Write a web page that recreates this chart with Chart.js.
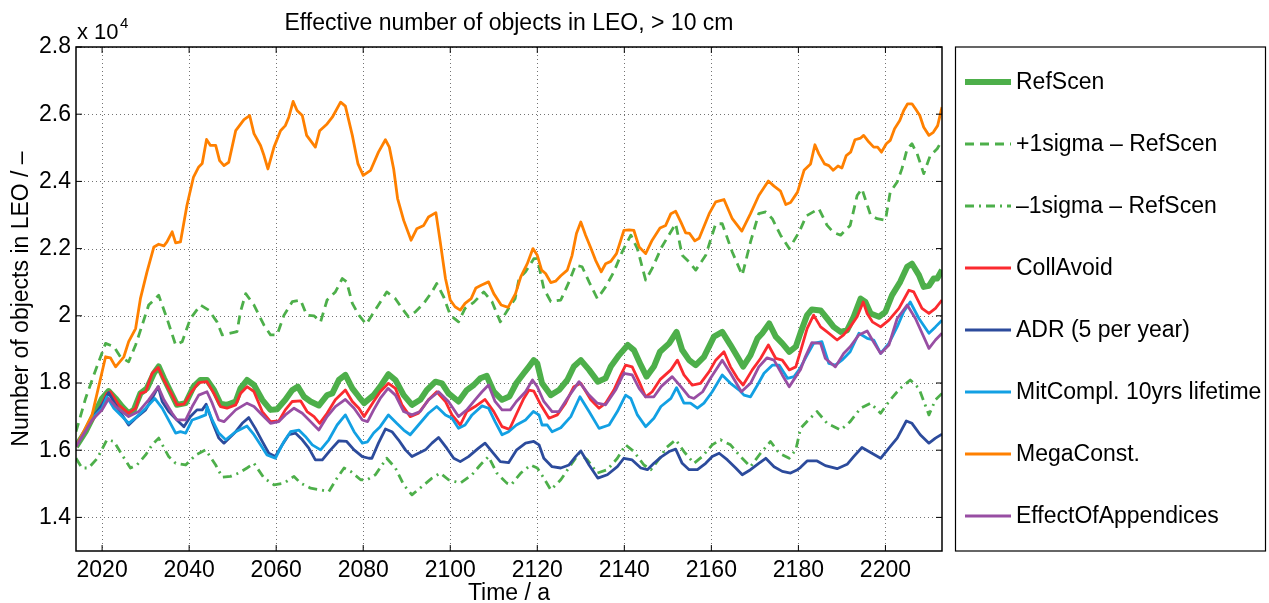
<!DOCTYPE html>
<html>
<head>
<meta charset="utf-8">
<script src="https://cdn.jsdelivr.net/npm/chart.js@4.4.1/dist/chart.umd.min.js"></script>
<style>
  html, body { margin: 0; padding: 0; background: #fff; }
  #wrap { position: relative; width: 1269px; height: 603px; }
</style>
</head>
<body>
<div id="wrap"><canvas id="leoChart" width="1269" height="603"></canvas></div>
<script>
// tick positions (years / number of objects)
const xTicks = [2020, 2040, 2060, 2080, 2100, 2120, 2140, 2160, 2180, 2200];
const yTicks = [14000, 16000, 18000, 20000, 22000, 24000, 26000, 28000];

// [year, objects]
const refScen = [
  [2014.0,16110],[2016.2,16550],[2018.5,17150],[2020.0,17540],[2021.5,17760],[2023.1,17540],[2024.6,17300],[2026.1,17100],[2027.3,17200],[2028.8,17690],
  [2030.3,17840],[2031.9,18290],[2033.0,18490],[2034.2,18140],[2036.1,17640],[2037.2,17350],[2039.2,17400],[2041.0,17890],[2042.6,18090],[2044.1,18090],
  [2045.7,17790],[2047.2,17380],[2048.7,17350],[2050.7,17450],[2051.8,17840],[2053.3,18090],[2054.9,17940],[2056.8,17500],[2058.7,17200],[2060.2,17220],
  [2062.1,17500],[2063.7,17790],[2065.0,17890],[2066.4,17590],[2067.9,17450],[2069.8,17330],[2071.7,17640],[2072.9,17690],[2074.4,18090],[2075.9,18240],
  [2077.5,17840],[2079.0,17590],[2080.2,17400],[2082.4,17640],[2083.9,17890],[2085.8,18260],[2087.4,18090],[2089.3,17640],[2091.2,17350],[2093.1,17500],
  [2094.6,17790],[2096.6,18040],[2098.1,17990],[2099.6,17690],[2101.9,17450],[2103.8,17790],[2105.4,17940],[2106.9,18140],[2108.4,18210],[2110.0,17740],
  [2111.9,17500],[2113.6,17600],[2115.2,18000],[2116.9,18290],[2118.1,18490],[2119.2,18680],[2120.0,18580],[2121.1,17990],[2123.1,17640],[2125.0,17790],
  [2126.9,18090],[2128.4,18490],[2130.0,18680],[2131.9,18390],[2133.9,18040],[2135.7,18140],[2136.9,18490],[2138.8,18830],[2140.8,19130],[2142.2,18980],
  [2143.8,18530],[2145.1,18190],[2146.8,18490],[2148.2,18930],[2150.3,19180],[2152.0,19520],[2153.3,18980],[2154.9,18680],[2156.4,18530],[2158.3,18780],
  [2160.6,19380],[2162.5,19520],[2164.4,19130],[2166.0,18780],[2167.3,18490],[2169.0,18830],[2170.6,19330],[2171.7,19480],[2173.3,19770],[2174.8,19380],
  [2176.3,19180],[2177.9,18930],[2179.4,19080],[2180.5,19500],[2182.0,20020],[2183.1,20190],[2185.1,20160],[2186.6,19920],[2188.1,19670],[2189.7,19520],
  [2191.2,19570],[2192.7,19970],[2194.3,20510],[2195.4,20410],[2196.6,20070],[2198.5,19970],[2200.0,20120],[2201.5,20610],[2203.4,21010],[2205.0,21460],
  [2206.1,21550],[2207.7,21210],[2208.8,20860],[2210.0,20890],[2211.1,21110],[2211.9,21110],[2213.0,21360]
];

const plusSigma = [
  [2014.0,16550],[2016.2,17540],[2018.1,18240],[2020.8,19180],[2022.7,19080],[2024.2,18780],[2026.1,18630],[2027.7,19130],[2029.2,19720],[2030.7,20320],
  [2033.0,20610],[2034.9,19920],[2036.9,19130],[2038.4,19230],[2040.3,19920],[2042.6,20320],[2044.5,20170],[2046.4,19820],[2047.6,19430],[2051.0,19530],
  [2051.8,20120],[2053.0,20660],[2054.9,20320],[2057.2,19720],[2058.7,19430],[2060.2,19430],[2061.8,20020],[2063.7,20420],[2065.6,20470],[2067.0,20020],
  [2068.7,20000],[2070.2,19820],[2071.7,20470],[2073.6,20710],[2075.2,21110],[2076.2,21010],[2077.5,20370],[2079.0,20020],[2080.7,19750],[2082.0,20020],
  [2083.5,20320],[2085.4,20710],[2087.4,20510],[2088.9,20220],[2090.4,19970],[2092.0,20120],[2093.9,20370],[2095.8,20710],[2096.9,20960],[2098.5,20560],
  [2100.0,20020],[2101.9,19820],[2103.4,20220],[2105.4,20400],[2107.7,20710],[2109.6,20420],[2111.5,19820],[2113.4,20220],[2114.9,20510],[2115.8,21110],
  [2117.3,21310],[2119.2,21700],[2120.0,21700],[2121.5,20810],[2123.1,20420],[2125.4,20470],[2127.3,21010],[2128.8,21510],[2130.3,21460],[2131.9,21010],
  [2133.8,20510],[2135.7,20860],[2137.6,21310],[2139.5,21900],[2141.5,22400],[2143.0,22000],[2144.9,21060],[2146.4,21410],[2148.6,22050],[2151.8,22740],
  [2153.3,21800],[2154.9,21600],[2156.4,21360],[2158.7,21800],[2161.0,22740],[2162.5,22740],[2164.8,21900],[2167.1,21210],[2169.0,22200],[2170.9,23040],
  [2172.5,23090],[2174.0,22890],[2175.9,22400],[2177.9,22000],[2180.2,22500],[2181.8,22970],[2184.7,23190],[2186.6,22690],[2188.1,22480],[2189.7,22400],
  [2191.9,22690],[2193.5,23580],[2194.6,23780],[2196.6,22990],[2198.1,22890],[2200.0,22840],[2201.1,23680],[2202.7,23980],[2203.8,24380],[2205.0,24970],
  [2206.1,25120],[2207.3,24820],[2208.8,24230],[2210.3,24770],[2211.9,24970],[2213.0,25220]
];

const minusSigma = [
  [2014.0,15760],[2015.4,15470],[2016.9,15470],[2018.9,15760],[2021.1,16310],[2022.7,16260],[2024.6,15860],[2026.5,15470],[2028.0,15560],[2030.0,15860],
  [2031.5,16160],[2033.0,16360],[2035.3,15810],[2036.9,15610],[2039.2,15560],[2041.5,15860],[2043.8,16010],[2046.1,15560],[2047.6,15200],[2049.5,15220],
  [2051.4,15320],[2053.3,15470],[2054.9,15610],[2057.2,15170],[2059.5,14970],[2061.8,15020],[2064.1,15220],[2065.6,15020],[2067.9,14870],[2070.2,14820],
  [2072.1,14770],[2074.0,15170],[2075.6,15470],[2077.1,15370],[2079.4,15120],[2080.9,15120],[2082.8,15270],[2085.4,15760],[2087.4,15470],[2089.3,14970],
  [2091.2,14670],[2093.5,14920],[2095.8,15170],[2097.7,15320],[2099.6,15120],[2102.3,15020],[2105.0,15270],[2106.9,15560],[2108.8,15810],[2110.7,15320],
  [2113.0,15020],[2114.0,14970],[2116.2,15320],[2118.5,15560],[2120.0,15470],[2121.5,15170],[2123.1,14820],[2125.4,15120],[2127.7,15560],[2129.6,15910],
  [2131.5,15710],[2133.8,15320],[2136.1,15420],[2138.4,15760],[2140.3,16160],[2142.2,15960],[2144.5,15560],[2146.1,15420],[2148.4,15810],[2149.5,16060],
  [2151.8,16310],[2153.7,15960],[2156.0,15610],[2157.9,15810],[2160.2,16160],[2162.1,16310],[2164.4,16160],[2166.7,15810],[2169.0,15510],[2171.3,15910],
  [2173.6,16260],[2175.6,15910],[2177.9,15760],[2179.4,16010],[2180.5,16650],[2182.3,16900],[2184.3,17150],[2186.6,16800],[2189.7,16600],[2191.9,16850],
  [2194.3,17250],[2196.6,17400],[2198.9,17100],[2201.1,17500],[2203.4,17840],[2205.7,18090],[2207.7,17840],[2210.0,17050],[2211.5,17500],[2213.0,17690]
];

const collAvoid = [
  [2014.0,16110],[2016.9,16750],[2019.2,17150],[2021.1,17690],[2021.9,17740],[2023.8,17350],[2026.1,17100],[2027.7,17250],[2028.8,17690],[2030.0,17740],
  [2031.5,18290],[2032.9,18460],[2034.2,18090],[2036.1,17640],[2037.2,17350],[2038.8,17370],[2040.3,17690],[2042.2,18010],[2044.1,18040],[2045.7,17690],
  [2047.2,17300],[2048.7,17250],[2050.7,17350],[2051.8,17690],[2053.3,17890],[2054.9,17740],[2056.8,17150],[2058.7,16850],[2060.6,16870],[2062.1,17200],
  [2063.7,17450],[2065.6,17470],[2067.1,17150],[2068.7,17000],[2070.0,16800],[2071.7,17100],[2073.6,17500],[2075.9,17790],[2077.5,17450],[2079.0,17250],
  [2080.2,17000],[2082.4,17450],[2083.9,17740],[2085.8,17990],[2087.4,17840],[2088.9,17350],[2090.8,17000],[2092.7,17100],[2095.0,17500],[2096.9,17740],
  [2098.9,17450],[2100.4,17050],[2102.3,16750],[2103.8,17150],[2105.7,17300],[2108.0,17510],[2110.0,17150],[2111.9,16700],[2113.6,16620],[2115.3,17100],
  [2116.9,17540],[2118.1,17790],[2119.2,17760],[2120.8,17350],[2122.7,16950],[2124.6,17050],[2126.5,17400],[2128.4,17890],[2130.0,17990],[2132.3,17500],
  [2134.2,17250],[2135.7,17400],[2137.6,17790],[2139.2,18240],[2140.3,18530],[2141.8,18480],[2143.4,18040],[2144.9,17590],[2146.4,17740],[2148.2,18100],
  [2150.7,18390],[2152.2,18680],[2153.7,18240],[2155.6,17940],[2157.5,17990],[2159.5,18340],[2161.0,18680],[2162.9,18930],[2164.4,18480],[2166.0,18140],
  [2167.3,17940],[2169.4,18390],[2171.3,18730],[2173.1,19130],[2174.8,18730],[2176.3,18680],[2177.9,18390],[2179.4,18480],[2180.5,18950],[2182.0,19620],
  [2183.5,20020],[2185.1,19670],[2186.6,19520],[2188.9,19280],[2190.4,19430],[2191.9,19670],[2193.5,19970],[2194.9,20410],[2195.8,20070],[2197.0,19820],
  [2198.9,19670],[2200.8,19870],[2203.1,20220],[2205.4,20760],[2206.5,20710],[2208.4,20220],[2210.0,20070],[2211.5,20220],[2213.0,20470]
];

const adr = [
  [2014.0,16110],[2017.7,16950],[2020.0,17350],[2021.5,17710],[2023.1,17350],[2024.6,17050],[2026.1,16750],[2027.7,16950],[2030.0,17200],[2031.5,17540],
  [2032.9,17890],[2033.8,17450],[2035.3,17150],[2037.2,16900],[2038.8,16700],[2040.3,17000],[2041.8,17200],[2043.0,17200],[2043.9,17370],[2045.3,16850],
  [2046.8,16360],[2048.0,16210],[2050.7,16550],[2052.2,16800],[2053.7,16970],[2055.2,16650],[2056.8,16260],[2058.3,15910],[2059.8,15810],[2061.4,16160],
  [2062.9,16460],[2064.4,16510],[2066.0,16310],[2067.5,16060],[2069.0,15710],[2070.6,15710],[2072.5,16010],[2074.4,16280],[2076.2,16260],[2077.9,16010],
  [2079.8,15810],[2081.3,15760],[2082.0,15760],[2083.5,16210],[2085.1,16630],[2086.6,16550],[2088.1,16310],[2089.7,16010],[2091.2,15810],[2092.7,15910],
  [2094.3,16010],[2095.8,16210],[2097.3,16380],[2099.2,16060],[2100.8,15760],[2102.3,15660],[2104.2,15810],[2106.5,16060],[2108.0,16210],[2109.6,15960],
  [2111.5,15660],[2113.4,15630],[2115.2,16000],[2117.3,16210],[2119.2,16260],[2120.4,16160],[2121.5,15760],[2123.4,15510],[2125.4,15470],[2127.3,15560],
  [2128.8,15810],[2130.0,15980],[2131.9,15560],[2133.9,15170],[2136.1,15270],[2138.4,15510],[2139.9,15760],[2141.8,15710],[2143.8,15470],[2145.3,15420],
  [2146.8,15610],[2148.5,15800],[2150.3,15960],[2151.8,16030],[2153.3,15610],[2154.9,15420],[2156.8,15420],[2158.7,15610],[2160.2,15810],[2161.8,15910],
  [2163.7,15710],[2165.6,15470],[2167.1,15270],[2169.0,15420],[2170.9,15610],[2172.5,15760],[2174.4,15510],[2176.3,15370],[2178.2,15320],[2179.8,15420],
  [2180.5,15490],[2182.0,15680],[2184.3,15680],[2186.2,15540],[2188.9,15450],[2191.2,15580],[2192.7,15810],[2194.6,16080],[2196.9,15910],[2198.9,15760],
  [2200.8,16060],[2202.7,16360],[2204.8,16870],[2206.1,16800],[2208.0,16460],[2210.0,16210],[2211.5,16360],[2213.0,16480]
];

const mitCompl = [
  [2014.0,16110],[2017.7,16950],[2020.0,17250],[2021.1,17590],[2022.7,17250],[2024.6,17000],[2026.1,16800],[2028.0,17000],[2030.0,17250],[2032.1,17540],
  [2033.8,17250],[2035.7,16800],[2036.9,16510],[2038.0,16550],[2039.2,16510],[2040.7,16900],[2042.2,16970],[2043.8,17050],[2044.1,17300],[2045.3,16900],
  [2046.8,16510],[2048.4,16310],[2050.7,16550],[2053.3,16720],[2054.9,16460],[2056.4,16160],[2057.9,15860],[2059.8,15760],[2061.8,16260],[2063.3,16550],
  [2065.2,16600],[2066.7,16410],[2068.3,16160],[2070.2,16010],[2072.1,16310],[2074.0,16750],[2075.9,17050],[2077.9,16550],[2079.8,16210],[2081.0,16250],
  [2082.4,16510],[2083.9,16700],[2085.8,17050],[2087.7,16800],[2089.3,16600],[2090.8,16460],[2092.7,16750],[2095.0,17100],[2096.9,17300],[2098.9,17050],
  [2100.4,16950],[2101.9,16650],[2103.4,16750],[2105.0,17050],[2107.3,17320],[2108.8,17250],[2110.3,16850],[2111.9,16460],[2113.4,16550],[2115.2,16750],
  [2117.3,16900],[2119.1,17150],[2120.4,17050],[2121.1,16750],[2122.3,16750],[2123.4,16550],[2125.4,16670],[2127.7,17000],[2129.8,17590],[2131.9,17150],
  [2134.2,16650],[2136.5,16750],[2138.4,17150],[2140.3,17640],[2141.5,17540],[2143.0,17050],[2144.9,16700],[2146.8,16950],[2148.4,17300],[2150.7,17540],
  [2152.0,17860],[2153.7,17400],[2155.2,17400],[2156.8,17250],[2158.3,17400],[2160.2,17740],[2162.5,18240],[2164.4,17990],[2166.4,17790],[2167.5,17640],
  [2169.0,17590],[2170.6,17940],[2172.1,18290],[2174.0,18530],[2175.6,18530],[2177.5,18140],[2179.0,18190],[2180.3,18420],[2182.0,18830],[2183.5,19180],
  [2185.4,19230],[2187.0,18580],[2188.5,18530],[2190.0,18680],[2191.9,18930],[2193.9,19480],[2195.8,19330],[2197.3,19280],[2198.9,18880],[2200.8,19180],
  [2202.7,19670],[2204.2,20120],[2205.7,20410],[2207.7,19920],[2210.0,19480],[2211.5,19670],[2213.0,19870]
];

const megaConst = [
  [2014.0,16110],[2017.7,17050],[2020.8,18780],[2021.9,18750],[2023.1,18480],[2025.0,18780],[2026.1,19230],[2027.7,19620],[2028.8,20510],[2030.3,21300],
  [2031.9,22050],[2033.0,22130],[2034.2,22080],[2034.9,22200],[2036.1,22500],[2036.9,22170],[2038.0,22200],[2039.5,23290],[2041.0,24130],[2042.2,24430],
  [2043.0,24530],[2044.0,25250],[2044.9,25070],[2046.1,25070],[2047.0,24620],[2048.0,24470],[2049.1,24570],[2050.7,25510],[2052.6,25840],[2053.9,25960],
  [2054.9,25420],[2056.4,25070],[2057.2,24770],[2058.1,24370],[2059.5,25020],[2061.0,25510],[2062.1,25660],[2062.9,25910],[2063.9,26380],[2064.8,26110],
  [2066.0,25960],[2067.0,25370],[2069.0,25020],[2070.0,25510],[2071.7,25710],[2072.9,25910],[2074.8,26360],[2075.9,26240],[2077.5,25370],[2078.8,24520],
  [2080.0,24180],[2081.7,24330],[2083.5,24870],[2085.1,25240],[2086.0,25020],[2087.0,24370],[2087.9,23490],[2089.3,22840],[2091.0,22250],[2092.3,22590],
  [2093.9,22690],[2095.0,22940],[2096.7,23070],[2097.7,22200],[2098.9,21110],[2100.0,20470],[2101.1,20270],[2102.3,20170],[2103.4,20370],[2104.8,20510],
  [2105.9,20830],[2107.1,20910],[2108.8,21010],[2110.0,20660],[2111.7,20320],[2113.3,20250],[2115.0,20660],[2116.2,21160],[2117.7,21550],[2119.0,22000],
  [2120.0,21800],[2121.0,21360],[2121.9,21260],[2123.1,20990],[2124.2,21030],[2125.4,21190],[2126.9,21360],[2128.0,21800],[2129.0,22450],[2130.0,22790],
  [2131.1,22400],[2132.3,22020],[2133.4,21650],[2134.7,21310],[2135.7,21550],[2136.9,21620],[2138.2,21850],[2139.9,22540],[2141.1,22560],[2142.2,22540],
  [2143.4,22050],[2144.9,21850],[2146.4,22250],[2148.2,22610],[2149.5,22690],[2150.7,23040],[2151.8,23110],[2153.0,22790],[2154.1,22470],[2155.0,22450],
  [2156.2,22230],[2157.2,22310],[2159.5,23040],[2161.0,23390],[2162.9,23460],[2164.8,22890],[2167.0,22520],[2169.0,23040],[2170.9,23580],[2173.1,24010],
  [2174.4,23860],[2175.9,23710],[2177.1,23310],[2178.2,23370],[2179.8,23680],[2181.3,24330],[2182.8,24520],[2183.8,25090],[2184.7,24820],[2186.0,24520],
  [2187.0,24470],[2188.0,24330],[2189.1,24460],[2190.0,24400],[2191.0,24770],[2192.0,24870],[2193.0,25240],[2194.3,25290],[2195.0,25370],[2196.2,25170],
  [2197.3,25020],[2198.2,25020],[2199.1,24870],[2200.2,25120],[2201.1,25220],[2202.1,25570],[2203.3,25810],[2204.2,26110],[2205.1,26310],[2206.1,26310],
  [2206.9,26160],[2207.9,25960],[2208.8,25610],[2210.0,25370],[2211.0,25460],[2212.0,25660],[2213.0,26210]
];

const appendices = [
  [2014.0,16110],[2017.7,16900],[2020.0,17200],[2021.5,17540],[2023.1,17300],[2026.1,17000],[2028.4,17150],[2030.7,17500],[2032.9,17890],[2034.2,17500],
  [2036.1,17100],[2037.2,16900],[2039.2,16900],[2040.7,17300],[2042.2,17640],[2044.1,17740],[2045.3,17400],[2046.8,16900],[2048.0,16850],[2050.7,17200],
  [2053.3,17400],[2054.9,17300],[2056.4,17100],[2058.7,16800],[2060.6,16850],[2062.1,17050],[2064.1,17250],[2066.0,17100],[2067.9,16850],[2069.8,16600],
  [2071.7,17000],[2073.6,17300],[2075.9,17510],[2077.9,17250],[2079.8,16900],[2081.0,16850],[2082.4,17200],[2083.9,17540],[2085.7,17840],[2087.4,17640],
  [2089.3,17150],[2091.2,17050],[2093.1,17150],[2095.0,17500],[2097.3,17740],[2099.6,17450],[2101.9,17000],[2103.8,17200],[2105.7,17500],[2107.3,17740],
  [2108.8,17940],[2110.3,17450],[2111.9,17200],[2113.8,17200],[2115.2,17450],[2117.3,17740],[2118.9,18090],[2120.0,17890],[2121.5,17450],[2123.4,17150],
  [2125.0,17150],[2126.9,17540],[2129.6,18040],[2131.9,17640],[2133.8,17400],[2135.7,17350],[2138.0,17790],[2139.9,18290],[2141.8,18240],[2143.4,17840],
  [2144.9,17590],[2146.8,17590],[2148.5,17900],[2151.0,18190],[2153.0,17890],[2154.9,17590],[2156.0,17540],[2158.0,17740],[2159.8,18140],[2162.5,18680],
  [2164.4,18290],[2166.9,17740],[2169.0,17990],[2170.9,18480],[2172.8,18750],[2174.4,18680],[2176.3,18240],[2177.9,17890],[2179.4,18190],[2180.5,18400],
  [2181.6,18780],[2183.1,19200],[2185.1,19180],[2186.2,18730],[2188.5,18480],[2190.4,18880],[2191.9,19080],[2193.9,19430],[2195.8,19550],[2197.0,19280],
  [2198.9,18880],[2200.8,19130],[2202.7,19920],[2205.0,20320],[2206.9,19920],[2210.0,19030],[2211.5,19280],[2213.0,19480]
];

const seriesNames = ['RefScen', '+1sigma \u2013 RefScen', '\u20131sigma \u2013 RefScen', 'CollAvoid',
  'ADR (5 per year)', 'MitCompl. 10yrs lifetime', 'MegaConst.', 'EffectOfAppendices'];
const seriesData = [refScen, plusSigma, minusSigma, collAvoid, adr, mitCompl, megaConst, appendices];
const seriesColors = ['#4daf4a', '#4daf4a', '#4daf4a', '#fb2a2f', '#2c4b9c', '#12a0e3', '#ff8000', '#984ea3'];
const seriesWidths = [6, 2.8, 2.8, 2.8, 2.8, 2.8, 2.8, 2.8];
const seriesDashes = [[], [9, 6], [9, 5, 2, 5], [], [], [], [], []];

const FONT = "'Liberation Sans', Arial, Helvetica, sans-serif";

const datasets = seriesNames.map((name, i) => ({
    label: name,
    data: seriesData[i].map(p => ({ x: p[0], y: p[1] })),
    borderColor: seriesColors[i],
    borderWidth: seriesWidths[i],
    borderDash: seriesDashes[i],
    borderJoinStyle: 'round',
    pointRadius: 0,
    tension: 0,
    fill: false,
    order: -i // last series ends up on top, like matlab
}));

const line = (ctx, x1, y1, x2, y2) => {
    ctx.beginPath();
    ctx.moveTo(x1, y1);
    ctx.lineTo(x2, y2);
    ctx.stroke();
};

const decorations = {
    id: 'decorations',
    beforeDatasetsDraw(chart) {
        const { ctx, chartArea: a, scales } = chart;
        ctx.save();
        ctx.strokeStyle = 'rgba(0,0,0,0.55)';
        ctx.lineWidth = 1;
        ctx.setLineDash([1, 3]);
        xTicks.forEach(v => {
            const px = Math.round(scales.x.getPixelForValue(v)) + 0.5;
            line(ctx, px, a.top, px, a.bottom);
        });
        yTicks.forEach(v => {
            const py = Math.round(scales.y.getPixelForValue(v)) + 0.5;
            line(ctx, a.left, py, a.right, py);
        });
        ctx.restore();
    },
    afterDraw(chart) {
        const { ctx, chartArea: a, scales } = chart;
        ctx.save();
        // axes box + inward ticks
        ctx.strokeStyle = '#000';
        ctx.lineWidth = 1.5;
        ctx.strokeRect(a.left, a.top, a.right - a.left, a.bottom - a.top);
        ctx.lineWidth = 1;
        xTicks.forEach(v => {
            const px = scales.x.getPixelForValue(v);
            line(ctx, px, a.bottom, px, a.bottom - 6);
            line(ctx, px, a.top, px, a.top + 6);
        });
        yTicks.forEach(v => {
            const py = scales.y.getPixelForValue(v);
            line(ctx, a.left, py, a.left + 6, py);
            line(ctx, a.right, py, a.right - 6, py);
        });

        ctx.fillStyle = '#000';
        ctx.font = `23px ${FONT}`;
        ctx.textAlign = 'center';
        ctx.textBaseline = 'alphabetic';
        const midX = (a.left + a.right) / 2;
        ctx.fillText('Effective number of objects in LEO, > 10 cm', midX, 30);
        ctx.fillText('Time / a', midX, 600);

        ctx.save();
        ctx.translate(28, (a.top + a.bottom) / 2);
        ctx.rotate(-Math.PI / 2);
        ctx.fillText('Number of objects in LEO / \u2013', 0, 0);
        ctx.restore();

        // exponent label
        ctx.textAlign = 'left';
        ctx.font = `22px ${FONT}`;
        ctx.fillText('x 10', a.left + 1, 39);
        ctx.font = `15px ${FONT}`;
        ctx.fillText('4', a.left + 44, 28);

        // legend
        const box = { left: 955.5, top: a.top, right: 1265.5, bottom: a.bottom };
        ctx.lineWidth = 1.2;
        ctx.strokeRect(box.left, box.top, box.right - box.left, box.bottom - box.top);
        ctx.font = `23px ${FONT}`;
        ctx.textBaseline = 'middle';
        chart.data.datasets.forEach((ds, i) => {
            const y = 82 + i * 62;
            ctx.strokeStyle = ds.borderColor;
            ctx.lineWidth = ds.borderWidth;
            ctx.setLineDash(ds.borderDash);
            line(ctx, 965, y, 1011, y);
            ctx.setLineDash([]);
            ctx.fillStyle = '#000';
            ctx.fillText(ds.label, 1016, y + 1);
        });
        ctx.restore();
    }
};

new Chart(document.getElementById('leoChart'), {
    type: 'line',
    data: { datasets },
    options: {
        responsive: false,
        animation: false,
        devicePixelRatio: 1,
        layout: { padding: { left: 0, right: 327, top: 47, bottom: 0 } },
        plugins: { legend: { display: false }, title: { display: false }, tooltip: { enabled: false } },
        scales: {
            x: {
                type: 'linear',
                min: 2014,
                max: 2213,
                afterBuildTicks: s => { s.ticks = xTicks.map(v => ({ value: v })); },
                afterFit: s => { s.height = 52; },
                grid: { display: false, drawTicks: false },
                border: { display: false },
                ticks: {
                    color: '#000',
                    font: { family: FONT, size: 23 },
                    padding: 6,
                    maxRotation: 0,
                    autoSkip: false,
                    callback: v => String(v)
                }
            },
            y: {
                type: 'linear',
                min: 13000,
                max: 28000,
                afterBuildTicks: s => { s.ticks = yTicks.map(v => ({ value: v })); },
                afterFit: s => { s.width = 76; },
                grid: { display: false, drawTicks: false },
                border: { display: false },
                ticks: {
                    color: '#000',
                    font: { family: FONT, size: 23 },
                    padding: 5,
                    autoSkip: false,
                    callback: v => String(+(v / 1e4).toFixed(1))
                }
            }
        }
    },
    plugins: [decorations]
});
</script>
</body>
</html>
